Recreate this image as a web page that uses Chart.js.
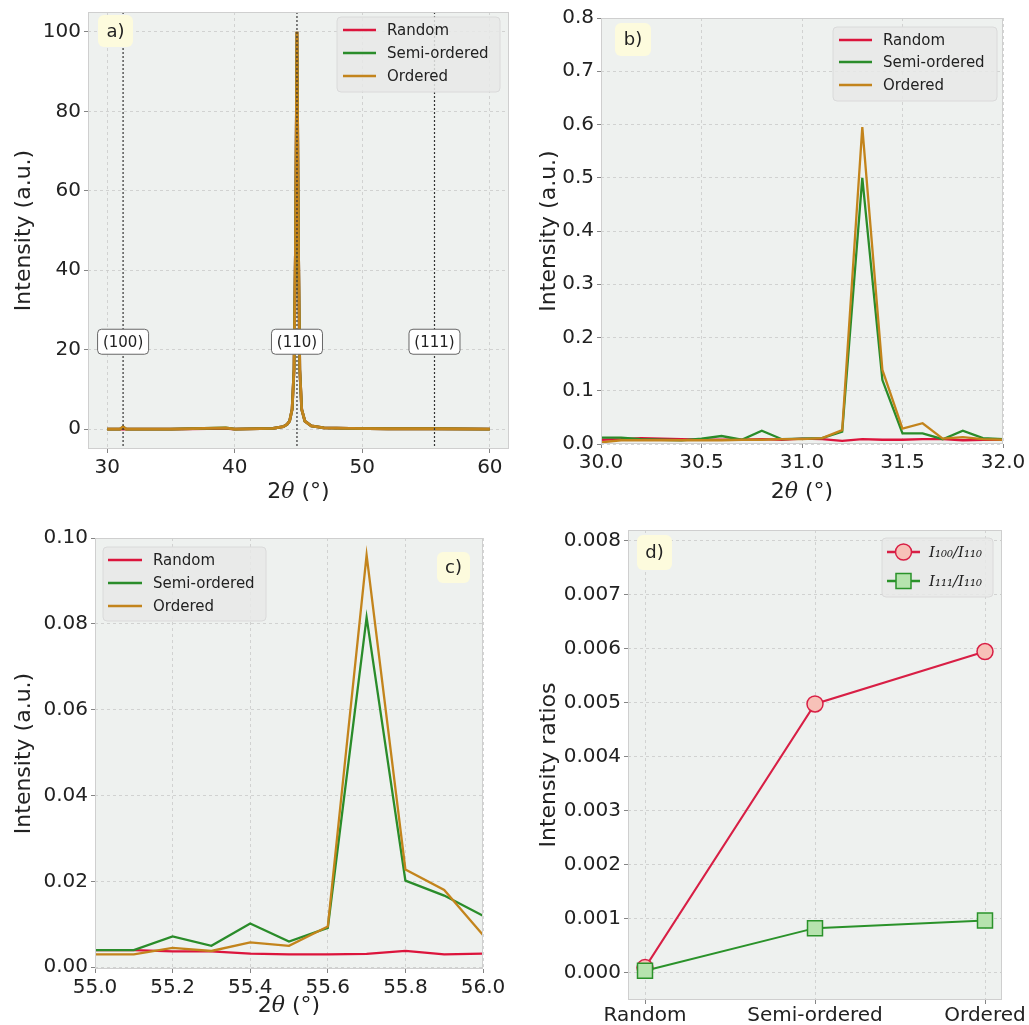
<!DOCTYPE html>
<html lang="en">
<head>
<meta charset="UTF-8">
<title>XRD superlattice peaks</title>
<script src="https://cdn.jsdelivr.net/npm/chart.js"></script>
<style>
  body { margin: 0; background: #fff; width: 1029px; height: 1025px; position: relative; overflow: hidden; }
  canvas { position: absolute; }
</style>
</head>
<body>
<canvas id="chartA" width="515" height="515" style="left:0;top:0"></canvas>
<canvas id="chartB" width="514" height="515" style="left:515px;top:0"></canvas>
<canvas id="chartC" width="515" height="510" style="left:0;top:515px"></canvas>
<canvas id="chartD" width="514" height="510" style="left:515px;top:515px"></canvas>
<script>
// ---- data ----
const seriesNames = ['Random', 'Semi-ordered', 'Ordered'];
const seriesColors = ['#dc143c', '#2a8c2a', '#c3841c'];

// a) full scan, normalised to the (110) peak
const aAngle   = [30, 31.0, 31.25, 31.5, 35, 39.3, 40, 43.0, 43.8, 44.1, 44.3, 44.5, 44.65, 44.76, 44.88, 45.0, 45.1, 45.25, 45.5, 46.0, 47.0, 49, 52, 55.66, 60];
const aRandom  = [0, 0, 0.1, 0, 0, 0.2, 0, 0.2, 0.6, 1.2, 2, 5, 15, 45, 100, 45, 15, 5, 2, 0.8, 0.3, 0.2, 0.1, 0.1, 0];
const aSemi    = [0, 0, 0.5, 0, 0, 0.3, 0, 0.2, 0.6, 1.2, 2, 5, 15, 45, 100, 45, 15, 5, 2, 0.8, 0.3, 0.2, 0.1, 0.1, 0];
const aOrdered = [0, 0, 0.6, 0, 0, 0.3, 0, 0.2, 0.6, 1.2, 2, 5, 15, 45, 100, 45, 15, 5, 2, 0.8, 0.3, 0.2, 0.1, 0.1, 0];
const aTicksX = [30, 40, 50, 60];
const aTicksY = [0, 20, 40, 60, 80, 100];
const planeAngles = [31.25, 44.88, 55.66];
const planeLabels = ['(100)', '(110)', '(111)'];

// b) (100) superlattice region
const bAngle   = [30.0, 30.1, 30.2, 30.3, 30.4, 30.5, 30.6, 30.7, 30.8, 30.9, 31.0, 31.1, 31.2, 31.3, 31.4, 31.5, 31.6, 31.7, 31.8, 31.9, 32.0];
const bRandom  = [0.008, 0.009, 0.011, 0.010, 0.009, 0.008, 0.008, 0.008, 0.009, 0.008, 0.010, 0.009, 0.006, 0.009, 0.008, 0.008, 0.009, 0.009, 0.007, 0.008, 0.008];
const bSemi    = [0.012, 0.012, 0.009, 0.008, 0.007, 0.010, 0.015, 0.008, 0.025, 0.009, 0.010, 0.011, 0.023, 0.500, 0.120, 0.020, 0.020, 0.009, 0.025, 0.011, 0.009];
const bOrdered = [0.003, 0.007, 0.007, 0.007, 0.007, 0.007, 0.007, 0.008, 0.008, 0.009, 0.009, 0.011, 0.026, 0.595, 0.139, 0.029, 0.039, 0.010, 0.013, 0.009, 0.008];
const bTicksX = [30.0, 30.5, 31.0, 31.5, 32.0];
const bTicksY = [0, 0.1, 0.2, 0.3, 0.4, 0.5, 0.6, 0.7, 0.8];

// c) (111) superlattice region
const cAngle   = [55.0, 55.1, 55.2, 55.3, 55.4, 55.5, 55.6, 55.7, 55.8, 55.9, 56.0];
const cRandom  = [0.0040, 0.0040, 0.0037, 0.0037, 0.0032, 0.0030, 0.0030, 0.0031, 0.0038, 0.0030, 0.0032];
const cSemi    = [0.0040, 0.0040, 0.0072, 0.0050, 0.0102, 0.0060, 0.0092, 0.0815, 0.0202, 0.0167, 0.0120];
const cOrdered = [0.0030, 0.0030, 0.0045, 0.0038, 0.0058, 0.0050, 0.0095, 0.0960, 0.0228, 0.0180, 0.0075];
const cTicksX = [55.0, 55.2, 55.4, 55.6, 55.8, 56.0];
const cTicksY = [0, 0.02, 0.04, 0.06, 0.08, 0.10];

// d) intensity ratios
const dCategories = ['Random', 'Semi-ordered', 'Ordered'];
const dRatio100 = [0.0001, 0.00498, 0.00595];
const dRatio111 = [0.00004, 0.00083, 0.00097];
const dRatioNames = ['I\u2081\u2080\u2080/I\u2081\u2081\u2080', 'I\u2081\u2081\u2081/I\u2081\u2081\u2080'];
const dTicksY = [0, 0.001, 0.002, 0.003, 0.004, 0.005, 0.006, 0.007, 0.008];

// ---- styling helpers ----
Chart.defaults.font.family = "'DejaVu Sans', sans-serif";
Chart.defaults.color = '#222';

const plotBg = '#eef1ef';
const gridColor = '#c9cbc9';

function roundBox(ctx, x, y, w, h, r, fill, stroke) {
  ctx.beginPath();
  ctx.roundRect(x, y, w, h, r);
  ctx.fillStyle = fill;
  ctx.fill();
  if (stroke) { ctx.strokeStyle = stroke; ctx.lineWidth = 1; ctx.stroke(); }
}

function drawMarker(ctx, kind, x, y, fill, stroke) {
  ctx.beginPath();
  if (kind === 'circle') ctx.arc(x, y, 8, 0, Math.PI * 2);
  else ctx.rect(x - 7.5, y - 7.5, 15, 15);
  ctx.fillStyle = fill;
  ctx.fill();
  ctx.strokeStyle = stroke;
  ctx.lineWidth = 1.5;
  ctx.stroke();
}

// "2θ (°)" with an italic theta, like the mathtext label
function drawAngleTitle(ctx, cx, cy) {
  const parts = [['2', "22px 'DejaVu Sans'"], ['\u03b8', "italic 22px 'DejaVu Serif'"], [' (\u00b0)', "22px 'DejaVu Sans'"]];
  let total = 0;
  parts.forEach(p => { ctx.font = p[1]; total += ctx.measureText(p[0]).width; });
  let x = cx - total / 2;
  ctx.fillStyle = '#222';
  ctx.textAlign = 'left';
  ctx.textBaseline = 'middle';
  parts.forEach(p => { ctx.font = p[1]; ctx.fillText(p[0], x, cy); x += ctx.measureText(p[0]).width; });
}

const panelDecor = {
  id: 'panelDecor',
  beforeDraw(chart) {
    const { ctx, chartArea: a } = chart;
    ctx.save();
    ctx.fillStyle = plotBg;
    ctx.fillRect(a.left, a.top, a.width, a.height);
    ctx.restore();
  },
  afterDatasetsDraw(chart, args, opts) {
    if (!opts.planes) return;
    const { ctx, chartArea: a, scales } = chart;
    ctx.save();
    opts.planes.angles.forEach((ang, i) => {
      const px = scales.x.getPixelForValue(ang);
      ctx.beginPath();
      ctx.setLineDash([2, 2]);
      ctx.strokeStyle = '#333';
      ctx.lineWidth = 1.2;
      ctx.moveTo(px, a.top);
      ctx.lineTo(px, a.bottom);
      ctx.stroke();
      ctx.setLineDash([]);
      const py = scales.y.getPixelForValue(opts.planes.y);
      roundBox(ctx, px - 25.5, py - 12.5, 51, 25, 4, '#ffffff', '#666');
      ctx.fillStyle = '#222';
      ctx.font = "15px 'DejaVu Sans'";
      ctx.textAlign = 'center';
      ctx.textBaseline = 'middle';
      ctx.fillText(opts.planes.labels[i], px, py + 1);
    });
    ctx.restore();
  },
  afterDraw(chart, args, opts) {
    const { ctx, chartArea: a } = chart;
    ctx.save();
    ctx.strokeStyle = '#cfcfcf';
    ctx.lineWidth = 1;
    ctx.strokeRect(a.left + 0.5, a.top + 0.5, a.width - 1, a.height - 1);

    if (opts.xTitleY) drawAngleTitle(ctx, (a.left + a.right) / 2, opts.xTitleY);

    const t = opts.tag;
    roundBox(ctx, t.x, t.y, t.w, t.h, 6, '#fdfbdd');
    ctx.fillStyle = '#222';
    ctx.font = "18px 'DejaVu Sans'";
    ctx.textAlign = 'center';
    ctx.textBaseline = 'middle';
    ctx.fillText(t.text, t.x + t.w / 2, t.y + t.h / 2 + 1);

    const L = opts.legend;
    roundBox(ctx, L.x, L.y, L.w, L.h, 4, 'rgba(232,233,232,0.85)', '#dadada');
    L.items.forEach((it, i) => {
      const y = L.rows[i];
      ctx.beginPath();
      ctx.strokeStyle = it.color;
      ctx.lineWidth = 2.5;
      ctx.moveTo(L.lineX[0], y);
      ctx.lineTo(L.lineX[1], y);
      ctx.stroke();
      if (it.marker) drawMarker(ctx, it.marker, (L.lineX[0] + L.lineX[1]) / 2, y, it.fill, it.color);
      ctx.fillStyle = '#222';
      ctx.font = L.font;
      ctx.textAlign = 'left';
      ctx.textBaseline = 'middle';
      ctx.fillText(it.label, L.textX, y + 1);
    });
    ctx.restore();
  }
};

function pts(xs, ys) { return xs.map((x, i) => ({ x, y: ys[i] })); }

// order: lower value is drawn later (on top), so Ordered ends up above the others
function lineSet(label, color, xs, ys, width, order) {
  return { label, data: pts(xs, ys), borderColor: color, borderWidth: width, pointRadius: 0, tension: 0, fill: false, order };
}

function axis(kind, cfg) {
  const base = {
    type: 'linear',
    min: cfg.min, max: cfg.max,
    grid: { color: gridColor, lineWidth: 0.8, tickColor: '#666', tickLength: 4 },
    border: { display: false, dash: [3, 3] },
    ticks: { font: { size: 20 }, color: '#222', padding: cfg.tickPad !== undefined ? cfg.tickPad : 3, maxRotation: 0, autoSkip: false, callback: cfg.fmt },
    afterBuildTicks: s => { s.ticks = cfg.ticks.map(v => ({ value: v })); }
  };
  if (cfg.title) {
    base.title = { display: true, text: cfg.title, font: { size: 22 }, color: '#222', padding: cfg.titlePad };
  }
  if (kind === 'x') {
    base.position = 'bottom';
    base.afterFit = s => { s.height = cfg.size; s.paddingLeft = 0; s.paddingRight = 0; };
  } else {
    base.position = 'left';
    base.afterFit = s => { s.width = cfg.size; s.paddingTop = 0; s.paddingBottom = 0; };
  }
  return base;
}

function baseOptions(pad, xAxis, yAxis, decor) {
  return {
    responsive: false,
    animation: false,
    layout: { padding: pad },
    scales: { x: xAxis, y: yAxis },
    plugins: { legend: { display: false }, tooltip: { enabled: false }, panelDecor: decor }
  };
}

const scanLegend = seriesNames.map((n, i) => ({ label: n, color: seriesColors[i] }));

// ---- a) ----
new Chart(document.getElementById('chartA'), {
  type: 'line',
  data: { datasets: [
    lineSet(seriesNames[0], seriesColors[0], aAngle, aRandom, 2.8, 2),
    lineSet(seriesNames[1], seriesColors[1], aAngle, aSemi, 2.8, 1),
    lineSet(seriesNames[2], seriesColors[2], aAngle, aOrdered, 2.8, 0)
  ] },
  options: baseOptions({ left: 0, top: 12, right: 6, bottom: 0 },
    axis('x', { min: 28.5, max: 61.5, ticks: aTicksX, fmt: v => v, size: 66 }),
    axis('y', { min: -5, max: 105, ticks: aTicksY, fmt: v => v, size: 88, title: 'Intensity (a.u.)', titlePad: { top: 11, bottom: 0 } }),
    {
      xTitleY: 492,
      tag: { text: 'a)', x: 98, y: 15, w: 35, h: 32 },
      legend: { x: 337, y: 17, w: 163, h: 75, rows: [30, 53, 76], lineX: [343, 376], textX: 387, font: "15px 'DejaVu Sans'", items: scanLegend },
      planes: { angles: planeAngles, labels: planeLabels, y: 22 }
    }),
  plugins: [panelDecor]
});

// ---- b) ----
new Chart(document.getElementById('chartB'), {
  type: 'line',
  data: { datasets: [
    lineSet(seriesNames[0], seriesColors[0], bAngle, bRandom, 2.3, 2),
    lineSet(seriesNames[1], seriesColors[1], bAngle, bSemi, 2.3, 1),
    lineSet(seriesNames[2], seriesColors[2], bAngle, bOrdered, 2.3, 0)
  ] },
  options: baseOptions({ left: 0, top: 18, right: 26, bottom: 0 },
    axis('x', { min: 30, max: 32, ticks: bTicksX, fmt: v => v.toFixed(1), size: 71 }),
    axis('y', { min: 0, max: 0.8, ticks: bTicksY, fmt: v => v.toFixed(1), size: 86, title: 'Intensity (a.u.)', titlePad: { top: 21, bottom: 0 } }),
    {
      xTitleY: 492,
      tag: { text: 'b)', x: 100, y: 23, w: 36, h: 33 },
      legend: { x: 318, y: 27, w: 164, h: 74, rows: [40, 62, 85], lineX: [324, 357], textX: 368, font: "15px 'DejaVu Sans'", items: scanLegend }
    }),
  plugins: [panelDecor]
});

// ---- c) ----
new Chart(document.getElementById('chartC'), {
  type: 'line',
  data: { datasets: [
    lineSet(seriesNames[0], seriesColors[0], cAngle, cRandom, 2.3, 2),
    lineSet(seriesNames[1], seriesColors[1], cAngle, cSemi, 2.3, 1),
    lineSet(seriesNames[2], seriesColors[2], cAngle, cOrdered, 2.3, 0)
  ] },
  options: baseOptions({ left: 0, top: 23, right: 32, bottom: 0 },
    axis('x', { min: 55, max: 56, ticks: cTicksX, fmt: v => v.toFixed(1), size: 56 }),
    axis('y', { min: -0.0004, max: 0.1, ticks: cTicksY, fmt: v => v.toFixed(2), size: 95, title: 'Intensity (a.u.)', titlePad: { top: 11, bottom: 0 } }),
    {
      xTitleY: 491,
      tag: { text: 'c)', x: 437, y: 37, w: 33, h: 31 },
      legend: { x: 103, y: 32, w: 163, h: 74, rows: [45, 68, 91], lineX: [108, 142], textX: 153, font: "15px 'DejaVu Sans'", items: scanLegend }
    }),
  plugins: [panelDecor]
});

// ---- d) ----
const dIndex = dCategories.map((c, i) => i);
new Chart(document.getElementById('chartD'), {
  type: 'line',
  data: { datasets: [
    { label: dRatioNames[0], data: pts(dIndex, dRatio100), borderColor: '#d81f45', borderWidth: 2, tension: 0, order: 1,
      pointStyle: 'circle', pointRadius: 8, pointBackgroundColor: '#f7c1b8', pointBorderColor: '#d81f45', pointBorderWidth: 1.5 },
    { label: dRatioNames[1], data: pts(dIndex, dRatio111), borderColor: '#2a922a', borderWidth: 2, tension: 0, order: 0,
      pointStyle: 'rect', pointRadius: 10.6, pointBackgroundColor: '#b6e3ae', pointBorderColor: '#2a922a', pointBorderWidth: 1.5 }
  ] },
  options: baseOptions({ left: 0, top: 15, right: 27, bottom: 0 },
    axis('x', { min: -0.1, max: 2.1, ticks: [0, 1, 2], fmt: v => dCategories[v], size: 25, tickPad: 0 }),
    axis('y', { min: -0.0005, max: 0.0082, ticks: dTicksY, fmt: v => v.toFixed(3), size: 113, title: 'Intensity ratios', titlePad: { top: 21, bottom: 0 } }),
    {
      tag: { text: 'd)', x: 122, y: 20, w: 35, h: 35 },
      legend: { x: 367, y: 23, w: 111, h: 59, rows: [37, 66], lineX: [372, 405], textX: 414, font: "italic 15px 'DejaVu Serif'",
        items: [
          { label: dRatioNames[0], color: '#d81f45', marker: 'circle', fill: '#f7c1b8' },
          { label: dRatioNames[1], color: '#2a922a', marker: 'rect', fill: '#b6e3ae' }
        ] }
    }),
  plugins: [panelDecor]
});
</script>
</body>
</html>
